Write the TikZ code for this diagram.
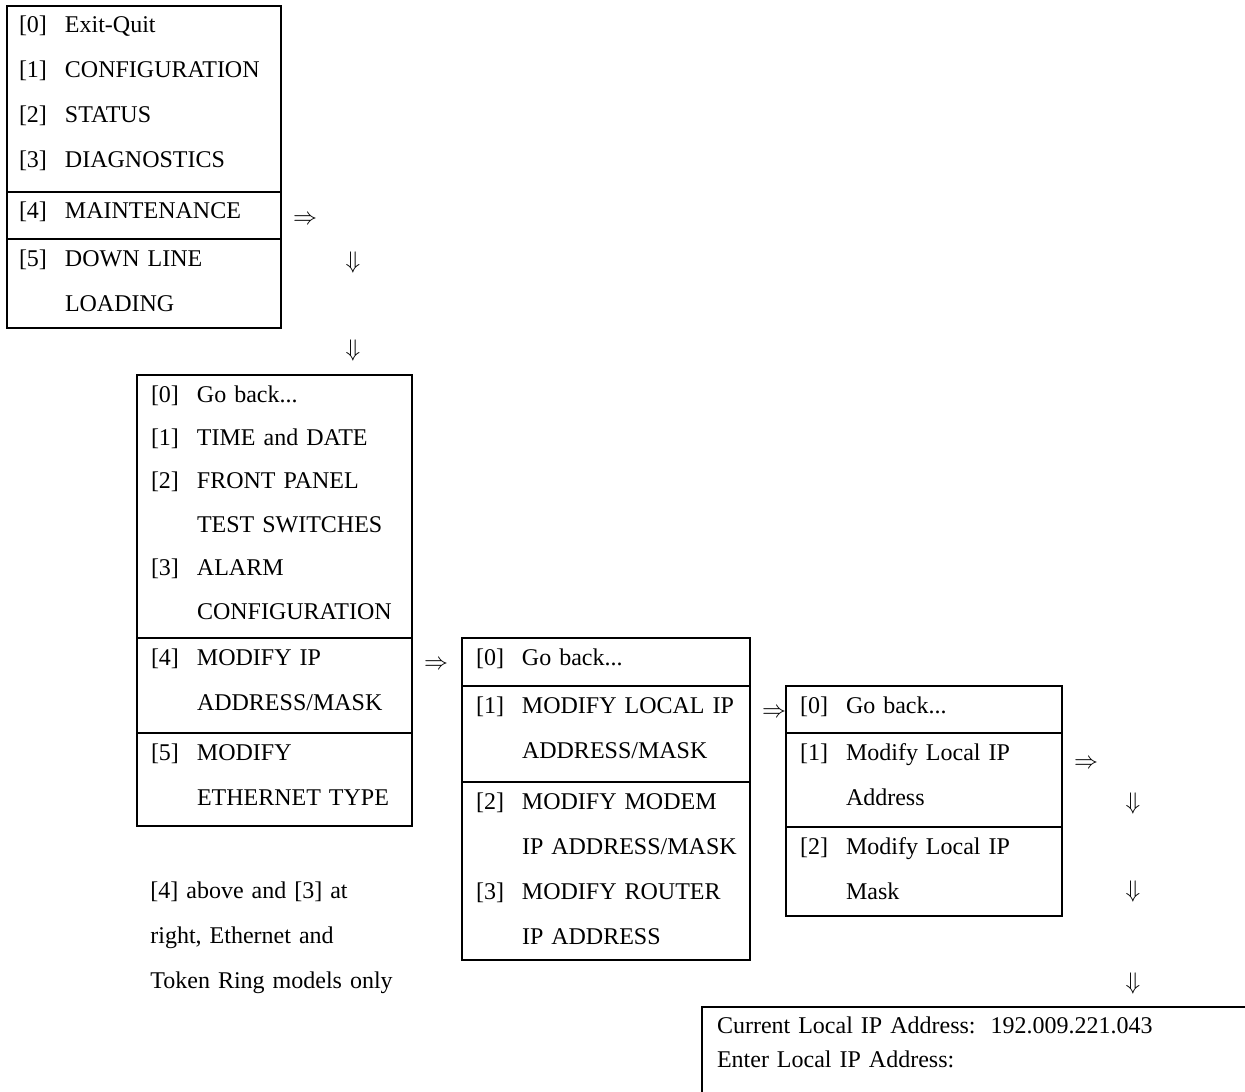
\documentclass[tikz,border=0pt]{standalone}
\usepackage{fontspec}
\setmainfont{Liberation Serif}
\usepackage{tikz}
\usetikzlibrary{positioning}
\tikzstyle{menu} = [draw, rectangle, line width=0.9pt, outer sep=0pt,
    inner xsep=7pt, inner ysep=0pt, align=left, text height=13.5pt,
    font=\fontsize{12}{22.5}\selectfont]
\tikzstyle{note} = [inner sep=0pt, align=left, font=\fontsize{12}{22.5}\selectfont]
\tikzstyle{go} = [inner sep=0pt, font=\fontsize{12}{14}\selectfont]
\newcommand{\opt}[2]{\mbox{\makebox[23pt][l]{[#1]}#2}}
\newcommand{\more}[1]{\mbox{\hspace*{23pt}#1}}

\begin{document}
\begin{tikzpicture}[x=0.5pt, y=-0.5pt]
    \useasboundingbox (0,0) rectangle (1245,1091);
    \clip (0,0) rectangle (1245,1091);

    % top menu
    \node [menu, anchor=north west, inner xsep=6pt, text width=125pt, text depth=79.5pt] (top) at (7,6)
        {\opt{0}{Exit-Quit}\\ \opt{1}{CONFIGURATION}\\ \opt{2}{STATUS}\\ \opt{3}{DIAGNOSTICS}};
    \node [menu, below=0pt of top, inner xsep=6pt, text width=125pt, text depth=10pt] (maint)
        {\opt{4}{MAINTENANCE}};
    \node [menu, below=0pt of maint, inner xsep=6pt, text width=125pt, text depth=31pt] (dll)
        {\opt{5}{DOWN LINE}\\ \more{LOADING}};

    % maintenance menu
    \node [menu, anchor=north west, text width=123.5pt, text depth=118pt,
        font=\fontsize{12}{21.7}\selectfont] (mnt) at (137,375)
        {\opt{0}{Go back...}\\ \opt{1}{TIME and DATE}\\ \opt{2}{FRONT PANEL}\\ \more{TEST SWITCHES}\\
         \opt{3}{ALARM}\\ \more{CONFIGURATION}};
    \node [menu, below=0pt of mnt, text width=123.5pt, text depth=34pt] (ipmask)
        {\opt{4}{MODIFY IP}\\ \more{ADDRESS/MASK}};
    \node [menu, below=0pt of ipmask, text width=123.5pt, text depth=33pt] (ether)
        {\opt{5}{MODIFY}\\ \more{ETHERNET TYPE}};

    \node [note, anchor=base west, text width=130pt] (models) at (150,898)
        {[4] above and [3] at\\ right, Ethernet and\\ Token Ring models only};

    % ip address/mask menu
    \node [menu, anchor=north west, text width=130pt, text depth=10.5pt] (ipback) at (462,638)
        {\opt{0}{Go back...}};
    \node [menu, below=0pt of ipback, text width=130pt, text depth=34.5pt] (local)
        {\opt{1}{MODIFY LOCAL IP}\\ \more{ADDRESS/MASK}};
    \node [menu, below=0pt of local, text width=130pt, text depth=75.5pt] (others)
        {\opt{2}{MODIFY MODEM}\\ \more{IP ADDRESS/MASK}\\ \opt{3}{MODIFY ROUTER}\\ \more{IP ADDRESS}};

    % local ip menu
    \node [menu, anchor=north west, text width=124pt, text depth=10pt] (locback) at (786,686)
        {\opt{0}{Go back...}};
    \node [menu, below=0pt of locback, text width=124pt, text depth=33.5pt] (locaddr)
        {\opt{1}{Modify Local IP}\\ \more{Address}};
    \node [menu, below=0pt of locaddr, text width=124pt, text depth=31pt] (locmask)
        {\opt{2}{Modify Local IP}\\ \more{Mask}};

    % entry screen
    \node [menu, anchor=north west, inner xsep=7.5pt, text width=330pt, text height=13pt, text depth=50pt,
        font=\fontsize{12}{17}\selectfont] (entry) at (702,1007)
        {Current Local IP Address:\hspace{7.5pt}192.009.221.043\\ Enter Local IP Address:};

    \node [go] (goA) at (305,220) {$\Rightarrow$};
    \node [go] (dnA) at (353,262) {$\Downarrow$};
    \node [go] (dnB) at (353,350) {$\Downarrow$};
    \node [go] (goB) at (436,665) {$\Rightarrow$};
    \node [go] (goC) at (774,713) {$\Rightarrow$};
    \node [go] (goD) at (1086,764) {$\Rightarrow$};
    \node [go] (dnC) at (1133,803) {$\Downarrow$};
    \node [go] (dnD) at (1133,891) {$\Downarrow$};
    \node [go] (dnE) at (1133,983) {$\Downarrow$};
\end{tikzpicture}
\end{document}
